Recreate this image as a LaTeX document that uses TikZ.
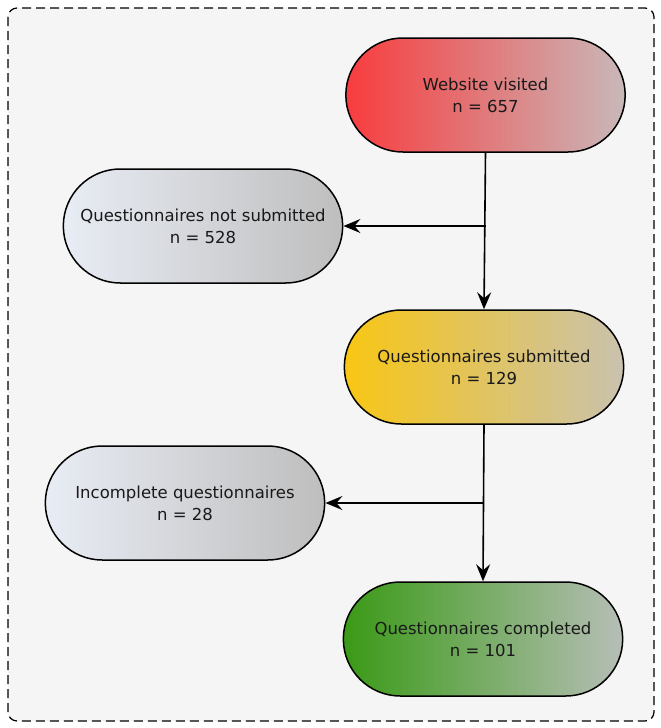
\documentclass[tikz,border=0pt]{standalone}
\usepackage{fontspec}
\setmainfont{DejaVu Sans}
\usepackage{xcolor}
\usetikzlibrary{shapes.misc,arrows.meta}

\definecolor{panelgray}{HTML}{F5F5F5}
\definecolor{visitleft}{HTML}{F83C3E}
\definecolor{visitright}{HTML}{C9B8B9}
\definecolor{greyleft}{HTML}{E8ECF4}
\definecolor{greyright}{HTML}{BEBEBE}
\definecolor{yellowleft}{HTML}{F8C614}
\definecolor{yellowright}{HTML}{C9C2AE}
\definecolor{greenleft}{HTML}{3A9A16}
\definecolor{greenright}{HTML}{B6BEB6}

\begin{document}
\begin{tikzpicture}[x=1pt, y=-1pt,
  stage/.style={rounded rectangle, draw=black, line width=1.5pt,
    minimum width=286pt, minimum height=114pt, align=center,
    font=\fontsize{16.5}{22}\selectfont, text=black!90},
  flow/.style={line width=1.6pt, -{Stealth[length=17pt, width=14pt, inset=6pt]}}]
  \useasboundingbox (0,0) rectangle (661,728);
  % dashed panel
  \draw[fill=panelgray, line width=1.2pt, dash pattern=on 9pt off 5pt, rounded corners=9pt]
    (8,8) rectangle (654,721);
  % main column
  \node[stage, left color=visitleft, right color=visitright] (visited) at (485.5,95)
    {Website visited\\n = 657};
  \node[stage, left color=yellowleft, right color=yellowright] (submitted) at (484,367)
    {Questionnaires submitted\\n = 129};
  \node[stage, left color=greenleft, right color=greenright] (completed) at (483,639)
    {Questionnaires completed\\n = 101};
  % drop-outs
  \node[stage, left color=greyleft, right color=greyright] (notsub) at (203,226)
    {Questionnaires not submitted\\n = 528};
  \node[stage, left color=greyleft, right color=greyright] (incomplete) at (185,503)
    {Incomplete questionnaires\\n = 28};
  % connectors
  \coordinate (split1) at (visited.south |- notsub.east);
  \coordinate (split2) at (submitted.south |- incomplete.east);
  \draw[flow] (visited.south) -- (submitted.north);
  \draw[flow] (split1) -- (notsub.east);
  \draw[flow] (submitted.south) -- (completed.north);
  \draw[flow] (split2) -- (incomplete.east);
\end{tikzpicture}
\end{document}
